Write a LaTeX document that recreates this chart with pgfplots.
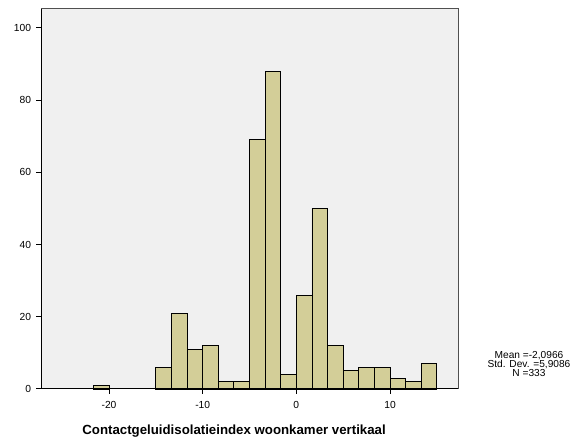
\documentclass[border=0pt]{standalone}
\usepackage{pgfplots}
\pgfplotsset{compat=1.18}
\usepackage{fontspec}
\setmainfont{Liberation Sans}
\definecolor{barfill}{HTML}{D3CE98}
\definecolor{bg}{HTML}{F0F0F0}
\definecolor{frame}{HTML}{505050}
\begin{document}
\begin{tikzpicture}[x=1bp,y=1bp]
\path (0,0) rectangle (578,436);
\begin{axis}[
  at={(41bp,47bp)}, anchor=south west,
  scale only axis, width=417bp, height=381bp,
  xmin=-27.26, xmax=17.26, ymin=0, ymax=105.5,
  axis background/.style={fill=bg},
  axis lines*=left,
  axis line style={black, line width=1bp},
  tick align=outside,
  major tick length=5bp,
  tick style={black, line width=1bp},
  xtick={-20,-10,0,10}, ytick={0,20,40,60,80,100},
  /pgf/number format/assume math mode=true,
  ticklabel style={font=\fontsize{10.3}{12}\selectfont},
  xticklabel style={yshift=-3.5bp},
  yticklabel style={xshift=-1.5bp},
  xlabel={Contactgeluidisolatieindex woonkamer vertikaal},
  xlabel style={font=\fontsize{13.3}{15}\selectfont\bfseries, at={(axis cs:-6.65,0)}, anchor=base, yshift=-45bp},
  clip=false,
]
\addplot[ybar interval, fill=barfill, draw=black, line width=0.9bp] coordinates {
  (-21.6667,1) (-20,1)
};
\addplot[ybar interval, fill=barfill, draw=black, line width=0.9bp] coordinates {
  (-15,6) (-13.3333,21) (-11.6667,11) (-10,12) (-8.3333,2) (-6.6667,2)
  (-5,69) (-3.3333,88) (-1.6667,4) (0,26) (1.6667,50) (3.3333,12)
  (5,5) (6.6667,6) (8.3333,6) (10,3) (11.6667,2) (13.3333,7) (15,7)
};
\draw[frame, line width=0.8bp] (rel axis cs:0,1) -- (rel axis cs:1,1) -- (rel axis cs:1,0);
\draw[black, line width=1bp] (rel axis cs:0,0) -- (rel axis cs:1,0);
\end{axis}
\node[align=center, font=\fontsize{10.2}{9.2}\selectfont, anchor=center] at (529,72) {Mean =-2,0966\\Std. Dev. =5,9086\\N =333};
\end{tikzpicture}
\end{document}
